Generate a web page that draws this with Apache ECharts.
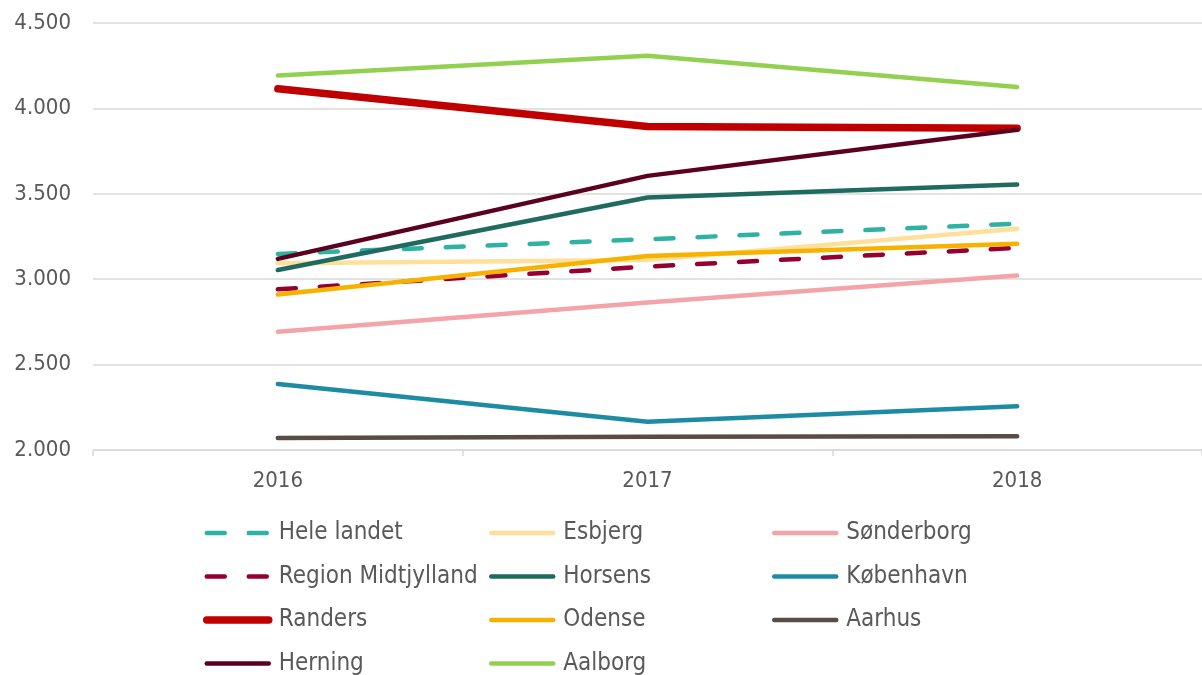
<!DOCTYPE html>
<html><head><meta charset="utf-8">
<script src="https://cdn.jsdelivr.net/npm/echarts@6/dist/echarts.min.js"></script>
<style>html,body{margin:0;padding:0;background:#fff}#c{width:1202px;height:675px}</style>
</head><body><div id="c"></div>
<script>
const categories = ['2016', '2017', '2018'];
const yTicks = [2000, 2500, 3000, 3500, 4000, 4500];

const heleLandet = [3148, 3234, 3325];
const esbjerg = [3094, 3112, 3296];
const sonderborg = [2693, 2863, 3021];
const regionMidtjylland = [2941, 3074, 3183];
const horsens = [3054, 3478, 3554];
const kobenhavn = [2387, 2166, 2256];
const randers = [4115, 3894, 3884];
const odense = [2910, 3136, 3207];
const aarhus = [2070, 2078, 2080];
const herning = [3119, 3605, 3875];
const aalborg = [4193, 4308, 4125];

const seriesDefs = [
  {name:'Hele landet', data: heleLandet, color:'#2DB2A4', width:4.5, dash:true},
  {name:'Esbjerg', data: esbjerg, color:'#FFE09A', width:4.5},
  {name:'Sønderborg', data: sonderborg, color:'#F4A3A8', width:4.5},
  {name:'Region Midtjylland', data: regionMidtjylland, color:'#950030', width:4.5, dash:true},
  {name:'Horsens', data: horsens, color:'#1F6B60', width:4.5},
  {name:'København', data: kobenhavn, color:'#1E8BA5', width:4.5},
  {name:'Randers', data: randers, color:'#C00000', width:7.5},
  {name:'Odense', data: odense, color:'#F7B200', width:4.5},
  {name:'Aarhus', data: aarhus, color:'#594C45', width:4.5},
  {name:'Herning', data: herning, color:'#5C0020', width:4.5},
  {name:'Aalborg', data: aalborg, color:'#92D050', width:4.5}
];

const FONT = '"DejaVu Sans Condensed", "DejaVu Sans", sans-serif';
const TXT = '#595959';
const legendCommon = {
  orient:'vertical', itemWidth:62, itemHeight:14, itemGap:19.5,
  padding:0, height:200, top:521, selectedMode:false,
  itemStyle:{opacity:0},
  lineStyle:{width:'inherit', type:'inherit', cap:'round'},
  textStyle:{fontFamily:FONT, fontSize:24, lineHeight:24, color:TXT, padding:[0,0,0,5]}
};

const chart = echarts.init(document.getElementById('c'), null, {renderer:'canvas'});
chart.setOption({
  animation:false,
  grid:{left:93, top:23, width:1121, height:427, containLabel:false},
  xAxis:{
    type:'category', data:categories, boundaryGap:true,
    axisLine:{show:true, lineStyle:{color:'#D9D9D9', width:1.5}},
    axisTick:{show:true, length:6, lineStyle:{color:'#D9D9D9', width:1.5}},
    axisLabel:{fontFamily:FONT, fontSize:22, color:TXT, margin:20}
  },
  yAxis:{
    type:'value', min:yTicks[0], max:yTicks[yTicks.length-1], interval:500,
    axisLine:{show:false}, axisTick:{show:false},
    splitLine:{lineStyle:{color:'#D9D9D9', width:1.5}},
    axisLabel:{fontFamily:FONT, fontSize:22, color:TXT, margin:22,
      formatter: v => String(v).replace(/\B(?=(\d{3})+(?!\d))/g, '.')}
  },
  legend:[
    Object.assign({left:203, data:['Hele landet','Region Midtjylland','Randers','Herning']}, legendCommon),
    Object.assign({left:489, data:['Esbjerg','Horsens','Odense','Aalborg']}, legendCommon),
    Object.assign({left:772, data:['Sønderborg','København','Aarhus']}, legendCommon)
  ],
  series: seriesDefs.map(s => ({
    name:s.name, type:'line', data:s.data, symbol:'none', smooth:false,
    color:s.color,
    lineStyle:{color:s.color, width:s.width, cap:'round', join:'round',
      type: s.dash ? [18, 24] : 'solid'}
  }))
});
</script></body></html>
